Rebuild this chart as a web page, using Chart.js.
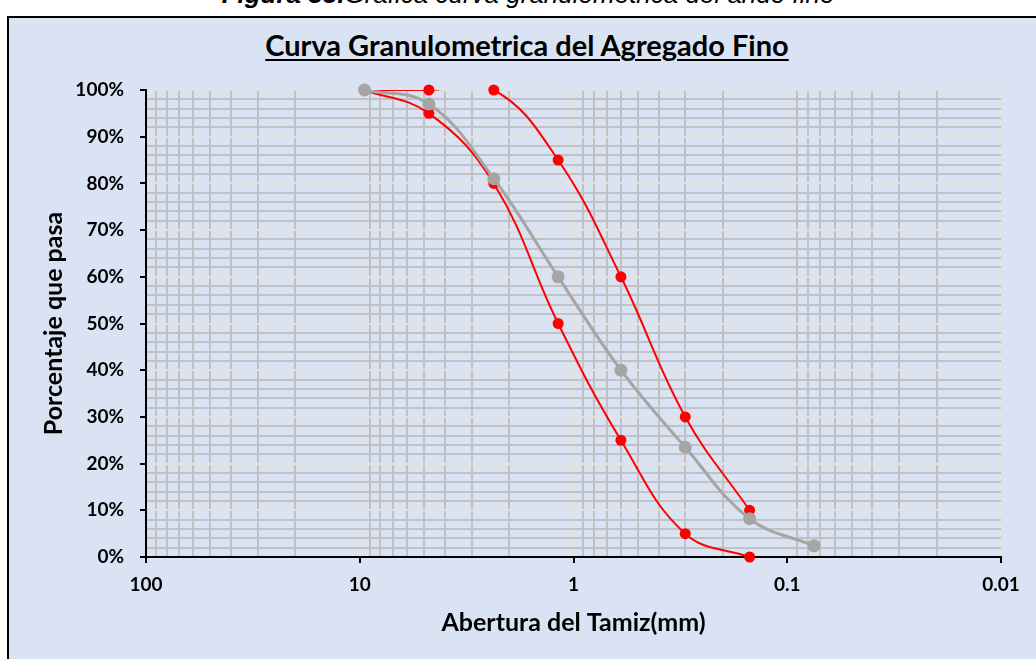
<!DOCTYPE html>
<html lang="es">
<head>
<meta charset="utf-8">
<title>Curva Granulometrica del Agregado Fino</title>
<script src="https://cdn.jsdelivr.net/npm/chart.js@4.4.1/dist/chart.umd.min.js"></script>
<style>
    html, body { margin: 0; padding: 0; background: #fff; width: 1036px; height: 659px; overflow: hidden; }
    #caption { position: absolute; left: 0; width: 1056px; top: -19px; text-align: center;
        font-family: "Liberation Sans", Arial, sans-serif; font-style: italic; font-size: 26px; line-height: 26px; color: #000; white-space: nowrap; }
    #frame { position: absolute; left: 7px; top: 16px; width: 1060px; height: 700px; border: 2px solid #000; background: #dae3f3; }
    #title { position: absolute; left: 0; width: 1054px; top: 29px; text-align: center; color: #000;
        font-family: Lato, sans-serif; font-weight: bold; font-size: 29px; line-height: 32px;
        text-decoration: underline; text-decoration-thickness: 2px; text-underline-offset: 3px; }
    #wrap { position: absolute; left: 0; top: 0; width: 1036px; height: 659px; }
</style>
</head>
<body>
<div id="caption"><b>Figura 33.</b>Gráfica curva granulométrica del árido fino</div>
<div id="frame"></div>
<div id="title">Curva Granulometrica del Agregado Fino</div>
<div id="wrap"><canvas id="granulo-chart" width="1036" height="659"></canvas></div>
<script>
// abertura de tamices (mm)
const tamices = [9.5, 4.75, 2.36, 1.18, 0.6, 0.3, 0.15, 0.075];
// % que pasa de la muestra
const muestra = [100, 97, 81, 60, 40, 23.5, 8.2, 2.4];
// limites del huso (hasta 0.15 mm)
const limiteSuperior = [100, 100, 100, 85, 60, 30, 10];
const limiteInferior = [100, 95, 80, 50, 25, 5, 0];

const ejeX = [100, 10, 1, 0.1, 0.01];
const ejeY = [0, 10, 20, 30, 40, 50, 60, 70, 80, 90, 100];

const ROJO = '#ff0000';
const GRIS = '#a5a5a5';

function toPoints(values) {
    return values.map((v, i) => ({ x: tamices[i], y: v }));
}

function isDecade(v) {
    const l = Math.log10(v);
    return Math.abs(l - Math.round(l)) < 1e-9;
}

// grid lines for the log axis: 1..9 in every decade
const xGrid = [];
for (let e = -2; e < 2; e++) {
    for (let s = 1; s < 10; s++) xGrid.push(+(s * Math.pow(10, e)).toPrecision(3));
}
xGrid.push(100);

function lineSet(values, color, width) {
    return {
        data: toPoints(values),
        showLine: true,
        borderColor: color,
        borderWidth: width,
        tension: 0.4,
        capBezierPoints: false,
        pointRadius: 0,
        pointHoverRadius: 0,
        clip: 0,
    };
}

function markerSet(values, color, radius) {
    return {
        data: toPoints(values),
        showLine: false,
        backgroundColor: color,
        borderColor: color,
        borderWidth: 0,
        pointRadius: radius,
        clip: false,
    };
}

Chart.defaults.font.family = 'Lato, sans-serif';
Chart.defaults.color = '#000';

const ctx = document.getElementById('granulo-chart').getContext('2d');
new Chart(ctx, {
    type: 'scatter',
    data: {
        datasets: [
            markerSet(muestra, GRIS, 6.5),
            lineSet(muestra, GRIS, 3),
            markerSet(limiteSuperior, ROJO, 5.5),
            markerSet(limiteInferior, ROJO, 5.5),
            lineSet(limiteSuperior, ROJO, 2),
            lineSet(limiteInferior, ROJO, 2),
        ]
    },
    options: {
        responsive: false,
        animation: false,
        events: [],
        layout: { padding: { top: 90, right: 35, bottom: 0, left: 0 } },
        plugins: { legend: { display: false }, tooltip: { enabled: false }, title: { display: false } },
        scales: {
            x: {
                type: 'logarithmic',
                reverse: true,
                min: 0.01,
                max: 100,
                afterBuildTicks: (scale) => { scale.ticks = xGrid.map(v => ({ value: v, major: isDecade(v) })); },
                afterFit: (scale) => { scale.height = 102; },
                ticks: {
                    autoSkip: false,
                    maxRotation: 0,
                    padding: 10,
                    font: { size: 19, weight: 'bold' },
                    callback: (v) => ejeX.includes(+v.toPrecision(3)) ? String(+v.toPrecision(3)) : '',
                },
                grid: {
                    lineWidth: 2,
                    tickLength: 6,
                    tickWidth: 2,
                    color: (c) => isDecade(c.tick.value) ? '#e4e2df' : '#c2c2c2',
                    tickColor: (c) => isDecade(c.tick.value) ? '#000' : 'rgba(0,0,0,0)',
                },
                border: { color: '#000', width: 2 },
                title: {
                    display: true,
                    text: 'Abertura del Tamiz(mm)',
                    font: { size: 25, weight: 'bold' },
                    padding: { top: 0, bottom: 21 },
                },
            },
            y: {
                min: 0,
                max: 100,
                afterFit: (scale) => { scale.width = 146; },
                ticks: {
                    stepSize: 2,
                    autoSkip: false,
                    padding: 16,
                    font: { size: 19, weight: 'bold' },
                    callback: (v) => ejeY.includes(v) ? v + '%' : '',
                },
                grid: {
                    lineWidth: 2,
                    tickLength: 6,
                    tickWidth: 2,
                    color: (c) => c.tick.value % 10 === 0 ? '#e4e2df' : '#c2c2c2',
                    tickColor: (c) => c.tick.value % 10 === 0 ? '#000' : 'rgba(0,0,0,0)',
                },
                border: { color: '#000', width: 2 },
                title: {
                    display: true,
                    text: 'Porcentaje que pasa',
                    font: { size: 25, weight: 'bold' },
                    padding: { top: 39, bottom: 0 },
                },
            },
        },
    },
});
</script>
</body>
</html>
